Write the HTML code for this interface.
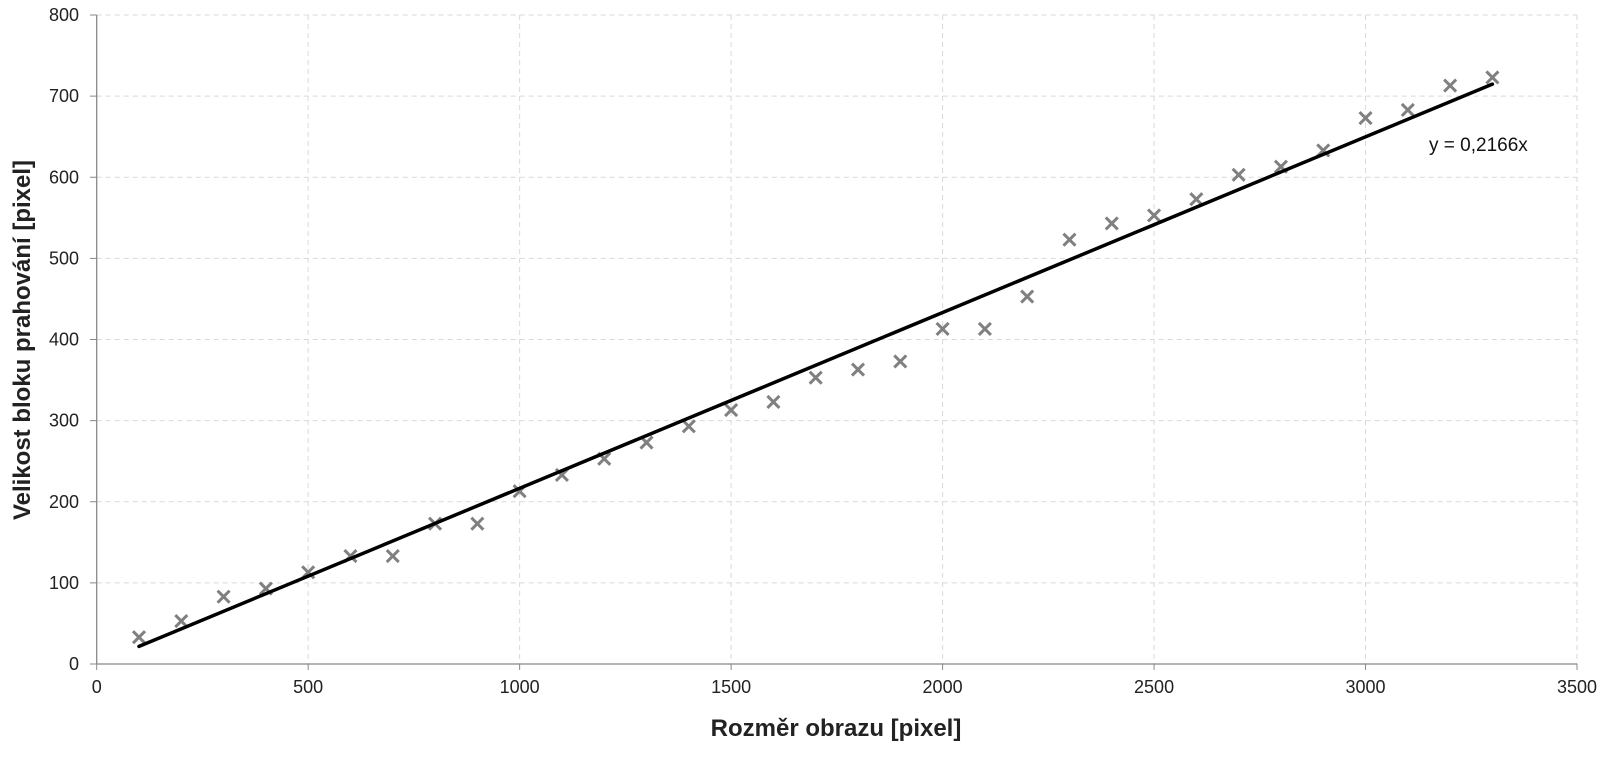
<!DOCTYPE html>
<html><head><meta charset="utf-8"><style>
body{margin:0;background:#fff}
svg{display:block;font-family:"Liberation Sans",sans-serif}
</style></head><body>
<svg id="c" width="1608" height="759">
<g id="grid"></g>
<g id="axes"></g>
<g id="marks"></g>
<text x="836" y="736" text-anchor="middle" font-size="24" font-weight="bold" fill="#222">Rozměr obrazu [pixel]</text>
<text transform="translate(30,340) rotate(-90)" text-anchor="middle" font-size="24" font-weight="bold" fill="#222">Velikost bloku prahování [pixel]</text>
<text x="1429" y="151" font-size="19" fill="#111">y = 0,2166x</text>
</svg>
<script>
const xs=[100,200,300,400,500,600,700,800,900,1000,1100,1200,1300,1400,1500,1600,1700,1800,1900,2000,2100,2200,2300,2400,2500,2600,2700,2800,2900,3000,3100,3200,3300];
const ys=[33,53,83,93,113,133,133,173,173,213,233,253,273,293,313,323,353,363,373,413,413,453,523,543,553,573,603,613,633,673,683,713,723];
const slope=0.2166;
const xTicks=[0,500,1000,1500,2000,2500,3000,3500];
const yTicks=[0,100,200,300,400,500,600,700,800];
const X=v=>96.7+v*(1577-96.7)/3500;
const Y=v=>664-v*(664-15)/800;
const NS="http://www.w3.org/2000/svg";
function mk(p,t,a){const e=document.createElementNS(NS,t);for(const k in a)e.setAttribute(k,a[k]);p.appendChild(e);return e;}
const g=document.getElementById('grid'),ax=document.getElementById('axes'),m=document.getElementById('marks');
xTicks.forEach(t=>{
 if(t>0){const l=mk(g,'line',{x1:X(t),x2:X(t),y1:15,y2:664,stroke:'#d9d9d9','stroke-dasharray':'5,4'});
 
 }
 mk(ax,'line',{x1:X(t),x2:X(t),y1:664,y2:670,stroke:'#888'});
 const tx=mk(ax,'text',{x:X(t),y:693,'text-anchor':'middle','font-size':18,fill:'#222'});tx.textContent=t;
 
 
});
yTicks.forEach(t=>{
 if(t>0){const l=mk(g,'line',{x1:96.7,x2:1577,y1:Y(t),y2:Y(t),stroke:'#d9d9d9','stroke-dasharray':'5,4'});
 
 }
 mk(ax,'line',{x1:90,x2:96.7,y1:Y(t),y2:Y(t),stroke:'#888'});
 const tx=mk(ax,'text',{x:79,y:Y(t)+6,'text-anchor':'end','font-size':18,fill:'#222'});tx.textContent=t;
 
 
});
mk(ax,'line',{x1:96.7,x2:96.7,y1:15,y2:664,stroke:'#888','stroke-width':1.3});
mk(ax,'line',{x1:96.7,x2:1577,y1:664,y2:664,stroke:'#888','stroke-width':1.3});
xs.forEach((x,i)=>{
 const cx=X(x),cy=Y(ys[i]),s=6;
 const p=mk(m,'path',{d:`M${cx-s} ${cy-s}L${cx+s} ${cy+s}M${cx-s} ${cy+s}L${cx+s} ${cy-s}`,stroke:'#808080','stroke-width':3});
 
 
});
const tl=mk(document.getElementById('c'),'line',{x1:X(xs[0]),y1:Y(slope*xs[0]),x2:X(xs[xs.length-1]),y2:Y(slope*xs[xs.length-1]),stroke:'#000','stroke-width':3.5,'stroke-linecap':'round'});


</script>
</body></html>
